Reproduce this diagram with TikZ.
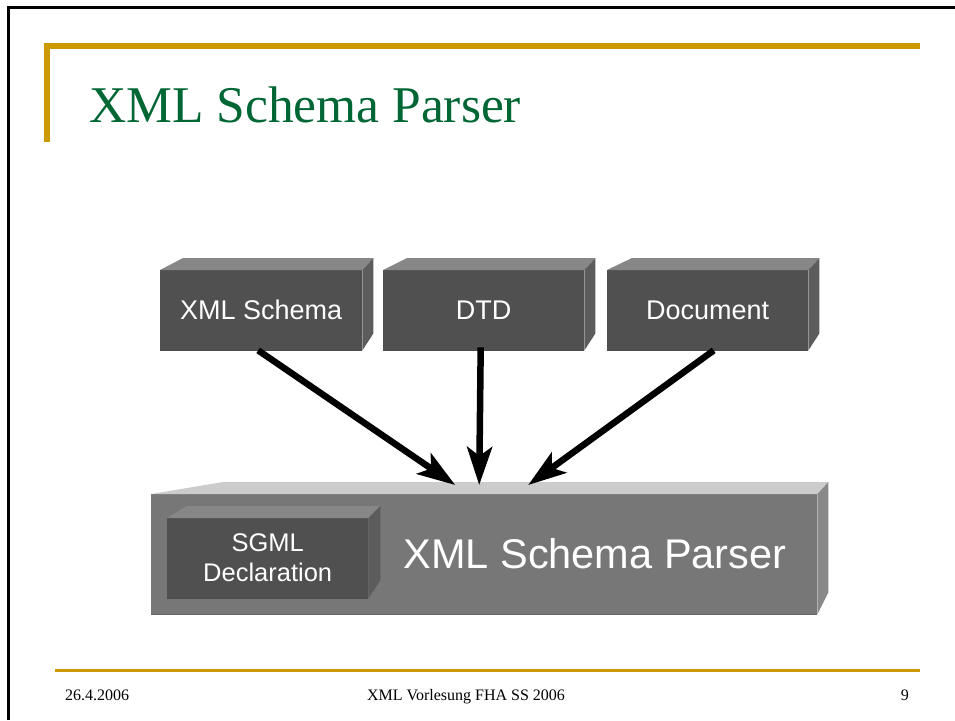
\documentclass[tikz,border=0pt]{standalone}
\usepackage{fontspec}
\setmainfont{Liberation Serif}
\newfontfamily\arialfont{Liberation Sans}
\usetikzlibrary{arrows.meta,calc}
\definecolor{gold}{RGB}{204,153,0}
\definecolor{titlegreen}{RGB}{0,102,51}
\definecolor{darkfront}{RGB}{80,80,80}
\definecolor{darktop}{RGB}{135,135,135}
\definecolor{darkside}{RGB}{92,92,92}
\definecolor{bigfront}{RGB}{119,119,119}
\definecolor{bigtop}{RGB}{204,204,204}
\definecolor{bigside}{RGB}{136,136,136}
\tikzset{
  front/.style={fill=darkfront, draw=none, inner sep=0pt, anchor=north west,
    text=white, font=\arialfont\fontsize{27}{30}\selectfont, align=center},
  bigfrontbox/.style={fill=bigfront, draw=none, inner sep=0pt, anchor=north west},
  arr/.style={line width=6.5pt, black, -{Stealth[length=38pt,width=25pt,inset=9pt]}},
  footline/.style={gold, line width=3pt},
  foottext/.style={font=\fontsize{16}{19}\selectfont, text=black, inner sep=0pt}
}
\begin{document}
\begin{tikzpicture}[x=1pt,y=-1pt]
\useasboundingbox (0,0) rectangle (955,720);
% frame
\draw[black, line width=3pt] (8.5,720) -- (8.5,7.5) -- (955,7.5);
% gold header bracket
\fill[gold] (44,43) rectangle (920,49);
\fill[gold] (44,43) rectangle (50,142);
\node[anchor=base west, inner sep=0pt, text=titlegreen, font=\fontsize{51.5}{60}\selectfont] (title) at (89,122) {XML Schema Parser};

% ---- big parser box ----
\node[bigfrontbox, minimum width=666pt, minimum height=120pt] (parser) at (151,494) {};
\fill[bigtop] (parser.north west) -- ($(parser.north west)+(72,-12)$) -- ($(parser.north east)+(11,-12)$) -- (parser.north east) -- cycle;
\fill[bigside] (parser.north east) -- ($(parser.north east)+(11,-12)$) -- ($(parser.south east)+(11,-22)$) -- (parser.south east) -- cycle;
\draw[black!60, line width=1pt] (parser.south west) -- (parser.south east);
\node[anchor=base, inner sep=0pt, text=white, font=\arialfont\fontsize{41.5}{46}\selectfont] (ptext) at (595,568) {XML Schema Parser};

% ---- SGML box ----
\node[front, minimum width=201pt, minimum height=80pt, font=\arialfont\fontsize{25.5}{30}\selectfont] (sgml) at (167,518) {SGML\\Declaration};
\fill[darktop] (sgml.north west) -- ($(sgml.north west)+(20,-12)$) -- ($(sgml.north east)+(12,-12)$) -- (sgml.north east) -- cycle;
\fill[darkside] (sgml.north east) -- ($(sgml.north east)+(12,-12)$) -- ($(sgml.south east)+(12,-18)$) -- (sgml.south east) -- cycle;
\draw[black!70, line width=1pt] (sgml.south west) -- (sgml.south east);

% ---- top boxes ----
\node[front, minimum width=202pt, minimum height=80pt] (xs) at (160,270) {XML Schema};
\node[front, minimum width=201pt, minimum height=80pt] (dtd) at (383,270) {DTD};
\node[front, minimum width=201pt, minimum height=80pt] (doc) at (607,270) {Document};
\foreach \b/\dl in {xs/23, dtd/24, doc/25}{
  \fill[darktop] (\b.north west) -- ($(\b.north west)+(\dl,-12)$) -- ($(\b.north east)+(11,-12)$) -- (\b.north east) -- cycle;
  \fill[darkside] (\b.north east) -- ($(\b.north east)+(11,-12)$) -- ($(\b.south east)+(11,-17)$) -- (\b.south east) -- cycle;
  \draw[black!70, line width=1pt] (\b.south west) -- (\b.south east);
}

% ---- arrows ----
\coordinate (t1) at ($(parser.north)+(-29,-9)$);
\coordinate (t2) at ($(parser.north)+(-5,-9)$);
\coordinate (t3) at ($(parser.north)+(44,-9)$);
\draw[arr] ($(xs.south)+(-3,0)$) -- (t1);
\draw[arr] ($(dtd.south)+(-3,-3)$) -- (t2);
\draw[arr] ($(doc.south)+(6,0)$) -- (t3);

% ---- footer ----
\draw[footline] (55,670) -- (920,670);
\node[foottext, anchor=base west] (date) at (65,700) {26.4.2006};
\node[foottext, anchor=base] (course) at (466,700) {XML Vorlesung FHA SS 2006};
\node[foottext, anchor=base east] (page) at (909,700) {9};
\end{tikzpicture}
\end{document}
